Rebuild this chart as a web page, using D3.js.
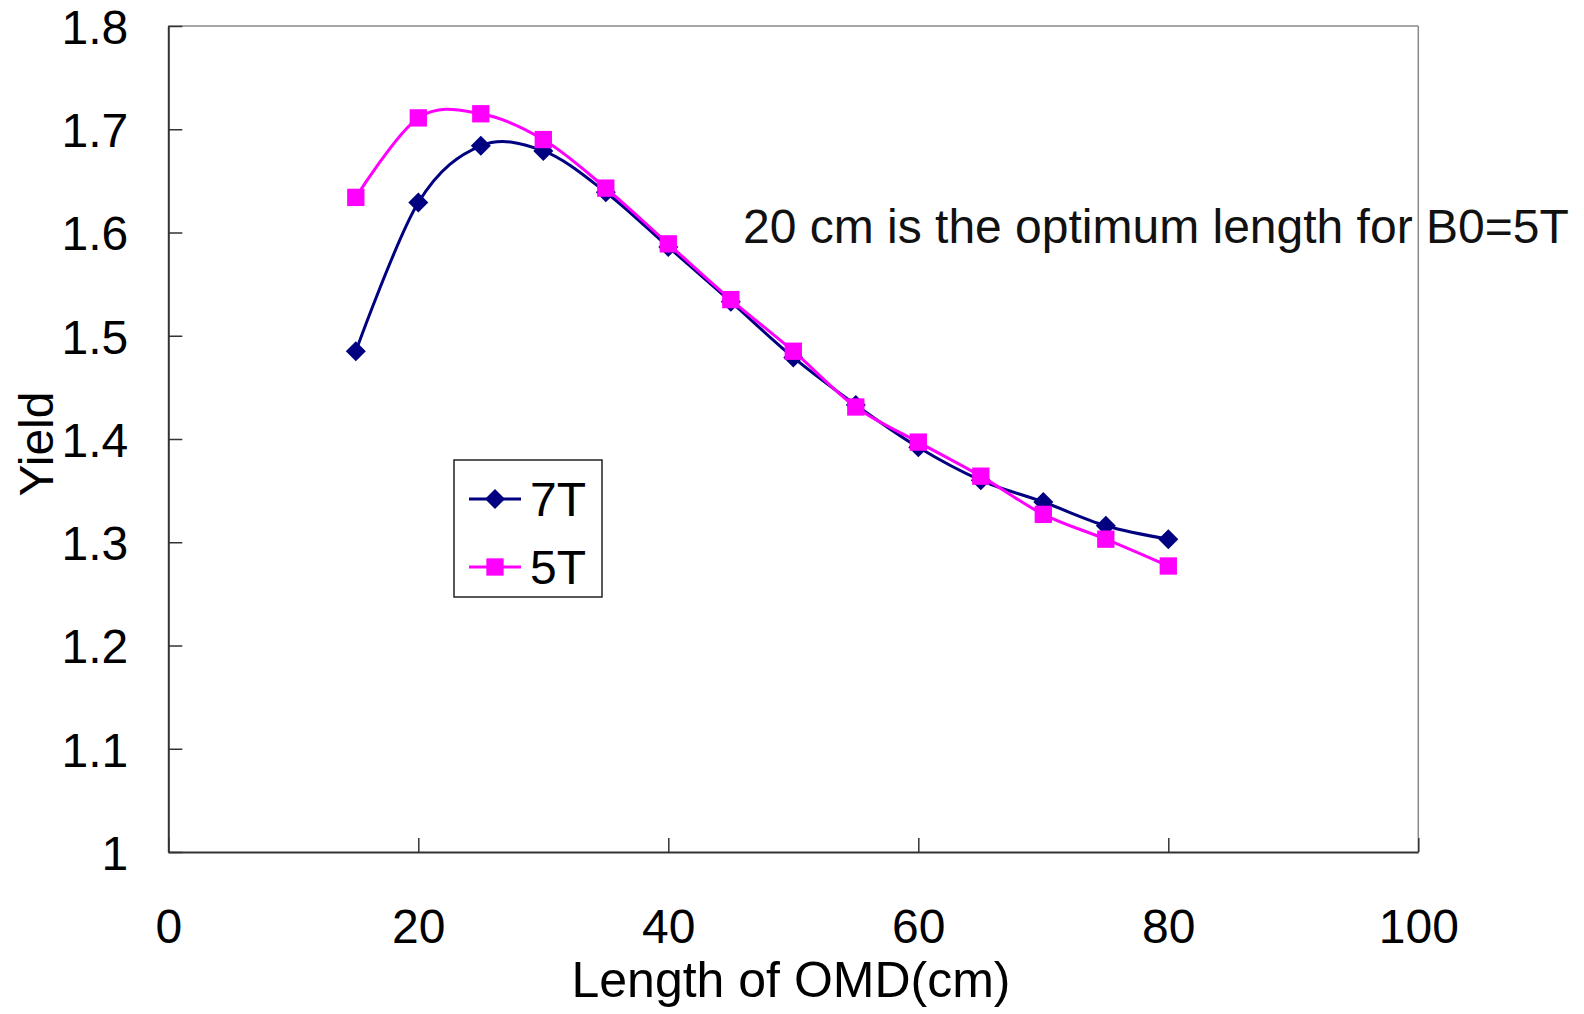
<!DOCTYPE html>
<html>
<head>
<meta charset="utf-8">
<script src="https://cdn.jsdelivr.net/npm/d3@7"></script>
<style>
  html, body { margin: 0; padding: 0; background: #fff; }
  svg text { font-family: "Liberation Sans", Arial, sans-serif; fill: #000; }
</style>
</head>
<body>
<svg id="chart" width="1584" height="1014"></svg>
<script>
// data
var lengths = [15, 20, 25, 30, 35, 40, 45, 50, 55, 60, 65, 70, 75, 80];
var yield7T = [1.485, 1.629, 1.684, 1.679, 1.639, 1.586, 1.533, 1.479, 1.433, 1.392, 1.360, 1.339, 1.316, 1.303];
var yield5T = [1.634, 1.711, 1.715, 1.690, 1.643, 1.589, 1.535, 1.485, 1.431, 1.397, 1.364, 1.327, 1.303, 1.277];
var xTicks = [0, 20, 40, 60, 80, 100];
var yTicks = [1, 1.1, 1.2, 1.3, 1.4, 1.5, 1.6, 1.7, 1.8];
var seriesNames = ["7T", "5T"];
var note = "20 cm is the optimum length for B0=5T";

var svg = d3.select('#chart');
var plotLeft = 168.3, plotRight = 1418.3, plotTop = 26, plotBottom = 852;

var x = d3.scaleLinear().domain([0, 100]).range([plotLeft, plotRight]);
var y = d3.scaleLinear().domain([1, 1.8]).range([plotBottom, plotTop]);

// diamond = square turned 45 deg (Excel style, same width and height)
var series = [
    { name: seriesNames[0], values: yield7T, color: '#000080', size: 200, rot: 45 },
    { name: seriesNames[1], values: yield5T, color: '#ff00ff', size: 300, rot: 0 }
];

function zip(a, b) {
    return a.map(function(v, i) { return [v, b[i]]; });
}

// frame: top and right in grey
svg.append('line').attr('x1', plotLeft).attr('x2', plotRight).attr('y1', plotTop).attr('y2', plotTop)
    .attr('stroke', '#8a8a8a').attr('stroke-width', 1.5);
svg.append('line').attr('x1', plotRight).attr('x2', plotRight).attr('y1', plotTop).attr('y2', plotBottom)
    .attr('stroke', '#8a8a8a').attr('stroke-width', 1.5);

// y axis, ticks pointing inward
var yAxis = svg.append('g').attr('transform', 'translate(' + plotLeft + ',0)')
    .call(d3.axisRight(y).tickValues(yTicks).tickSize(14).tickSizeOuter(0).tickFormat(d3.format('')));
yAxis.select('.domain').attr('stroke', '#333').attr('stroke-width', 2);
yAxis.selectAll('.tick line').attr('stroke', '#333').attr('stroke-width', 1.5);
yAxis.selectAll('.tick text')
    .attr('x', -40).attr('dy', '0.36em')
    .attr('text-anchor', 'end')
    .style('font-size', '48px');

// x axis, ticks pointing up
var xAxis = svg.append('g').attr('transform', 'translate(0,' + plotBottom + ')')
    .call(d3.axisTop(x).tickValues(xTicks).tickSize(14).tickSizeOuter(0));
xAxis.select('.domain').attr('stroke', '#333').attr('stroke-width', 2);
xAxis.selectAll('.tick line').attr('stroke', '#333').attr('stroke-width', 1.5);
xAxis.selectAll('.tick text')
    .attr('y', 91).attr('dy', 0)
    .style('font-size', '48px');

// axis titles
svg.append('text')
    .attr('transform', 'translate(53,444) rotate(-90)')
    .attr('text-anchor', 'middle')
    .style('font-size', '48px')
    .text('Yield');

svg.append('text')
    .attr('x', 791).attr('y', 997)
    .attr('text-anchor', 'middle')
    .style('font-size', '50px')
    .text('Length of OMD(cm)');

// lines + markers
var line = d3.line()
    .x(function(d) { return x(d[0]); })
    .y(function(d) { return y(d[1]); })
    .curve(d3.curveCatmullRom.alpha(0));

series.forEach(function(s) {
    var pts = zip(lengths, s.values);
    svg.append('path')
        .attr('d', line(pts))
        .attr('fill', 'none')
        .attr('stroke', s.color)
        .attr('stroke-width', 3);
    svg.selectAll(null).data(pts).enter().append('path')
        .attr('transform', function(d) {
            return 'translate(' + x(d[0]) + ',' + y(d[1]) + ') rotate(' + s.rot + ')';
        })
        .attr('d', d3.symbol().type(d3.symbolSquare).size(s.size))
        .attr('fill', s.color);
});

// annotation
svg.append('text')
    .attr('x', 743).attr('y', 243)
    .style('font-size', '48px')
    .style('fill', '#111')
    .text(note);

// legend
var lg = svg.append('g');
lg.append('rect')
    .attr('x', 454).attr('y', 460).attr('width', 148).attr('height', 137)
    .attr('fill', '#fff').attr('stroke', '#222').attr('stroke-width', 1.5);
series.forEach(function(s, i) {
    var ly = 499 + i * 68;
    lg.append('line').attr('x1', 469).attr('x2', 521).attr('y1', ly).attr('y2', ly)
        .attr('stroke', s.color).attr('stroke-width', 3);
    lg.append('path')
        .attr('transform', 'translate(495,' + ly + ') rotate(' + s.rot + ')')
        .attr('d', d3.symbol().type(d3.symbolSquare).size(s.size))
        .attr('fill', s.color);
    lg.append('text')
        .attr('x', 530).attr('y', ly).attr('dy', '0.36em')
        .style('font-size', '48px')
        .text(s.name);
});
</script>
</body>
</html>
